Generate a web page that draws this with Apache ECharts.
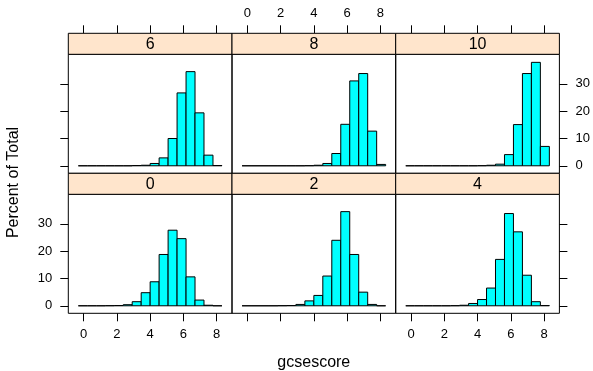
<!DOCTYPE html>
<html>
<head>
<meta charset="utf-8">
<script src="https://cdn.jsdelivr.net/npm/echarts@6/dist/echarts.min.js"></script>
<style>html,body{margin:0;padding:0;background:#fff}#c{width:593px;height:371px}</style>
</head>
<body>
<div id="c"></div>
<script>
// ---- data ----
const scores = ['0', '2', '4', '6', '8', '10'];
const breaks = [-0.32, 0.22, 0.76, 1.30, 1.84, 2.38, 2.92, 3.46, 4.00, 4.54, 5.08, 5.62, 6.16, 6.70, 7.24, 7.78, 8.32];
const pct0  = [0, 0, 0, 0.05, 0.1, 0.4, 1.5, 4.8, 8.8, 18.8, 27.7, 24.6, 10.6, 2.1, 0.2, 0];
const pct2  = [0, 0, 0, 0, 0.05, 0.1, 0.5, 1.8, 3.8, 10.9, 24.0, 34.5, 18.8, 5.0, 0.5, 0];
const pct4  = [0, 0, 0, 0, 0, 0.05, 0.2, 0.85, 2.3, 6.5, 17.0, 33.8, 27.1, 11.2, 1.5, 0.1];
const pct6  = [0, 0, 0, 0, 0, 0, 0.1, 0.2, 0.85, 2.9, 10.0, 26.7, 34.5, 19.4, 3.9, 0.1];
const pct8  = [0, 0, 0, 0, 0, 0, 0, 0.05, 0.2, 0.85, 4.5, 15.2, 31.1, 33.8, 12.7, 0.5];
const pct10 = [0, 0, 0, 0, 0, 0, 0, 0, 0.05, 0.2, 0.6, 4.1, 15.1, 33.8, 37.9, 7.1];
const xTicks = [0, 2, 4, 6, 8];
const yTicks = [0, 10, 20, 30];
const xTitle = 'gcsescore';
const yTitle = 'Percent of Total';

// ---- layout ----
const panelVals = [pct0, pct2, pct4, pct6, pct8, pct10];
const colX = [68.3, 232, 395.7];
const colW = 163.7;
const rowTop = { top: 54.3, bottom: 194.3 };
const panelH = 119;
const stripH = 21;
const FONT = 'Liberation Sans, Arial, sans-serif';
const xMin = -0.925, xMax = 8.925, yMin = -2.75, yMax = 40.85;

const grids = [], xAxes = [], yAxes = [], series = [], graphics = [];
panelVals.forEach((vals, i) => {
  const col = i % 3;
  const isTop = i >= 3;
  const top = isTop ? rowTop.top : rowTop.bottom;
  grids.push({ left: colX[col], top: top, width: colW, height: panelH, show: true,
    borderColor: '#000', borderWidth: 1, backgroundColor: 'transparent' });
  const showXLab = isTop ? col === 1 : col !== 1;
  xAxes.push({ gridIndex: i, type: 'value', min: xMin, max: xMax,
    position: isTop ? 'top' : 'bottom', offset: isTop ? stripH : 0,
    axisLine: { show: false, onZero: false }, splitLine: { show: false },
    axisTick: { show: true, inside: false, length: 8, lineStyle: { color: '#000', width: 1 }, customValues: xTicks },
    axisLabel: { show: showXLab, customValues: xTicks, margin: isTop ? 13 : 15, color: '#000', fontSize: 13, fontFamily: FONT }
  });
  const yPos = col === 2 ? 'right' : 'left';
  const showYTick = col !== 1;
  const showYLab = (col === 0 && !isTop) || (col === 2 && isTop);
  yAxes.push({ gridIndex: i, type: 'value', min: yMin, max: yMax, position: yPos,
    axisLine: { show: false, onZero: false }, splitLine: { show: false },
    axisTick: { show: showYTick, inside: false, length: 8, lineStyle: { color: '#000', width: 1 }, customValues: yTicks },
    axisLabel: { show: showYLab, customValues: yTicks, margin: 16, color: '#000', fontSize: 13, fontFamily: FONT }
  });
  const data = vals.map((v, k) => [breaks[k], breaks[k + 1], v]);
  series.push({ type: 'custom', xAxisIndex: i, yAxisIndex: i, data: data,
    encode: { x: [0, 1], y: 2 }, silent: true,
    renderItem: function (params, api) {
      const p0 = api.coord([api.value(0), api.value(2)]);
      const p1 = api.coord([api.value(1), 0]);
      return { type: 'rect',
        shape: { x: p0[0], y: p0[1], width: p1[0] - p0[0], height: p1[1] - p0[1] },
        style: { fill: '#00FFFF', stroke: '#000', lineWidth: 1 } };
    }
  });
  // strip
  graphics.push({ type: 'rect', shape: { x: colX[col], y: top - stripH, width: colW, height: stripH },
    style: { fill: '#FFE5CC', stroke: '#000', lineWidth: 1 }, z: 10 });
  graphics.push({ type: 'text', x: colX[col] + colW / 2, y: top - stripH / 2 + 0.5,
    style: { text: scores[i], fill: '#000', font: '16px ' + FONT, textAlign: 'center', textVerticalAlign: 'middle' }, z: 11 });
});
graphics.push({ type: 'text', x: 313.8, y: 363,
  style: { text: xTitle, fill: '#000', font: '16px ' + FONT, textAlign: 'center', textVerticalAlign: 'middle' } });
graphics.push({ type: 'text', x: 14, y: 182.5, rotation: Math.PI / 2,
  style: { text: yTitle, fill: '#000', font: '16px ' + FONT, textAlign: 'center', textVerticalAlign: 'middle' } });

const chart = echarts.init(document.getElementById('c'), null, { renderer: 'canvas' });
chart.setOption({
  animation: false,
  backgroundColor: '#fff',
  grid: grids, xAxis: xAxes, yAxis: yAxes, series: series, graphic: graphics
});
</script>
</body>
</html>
